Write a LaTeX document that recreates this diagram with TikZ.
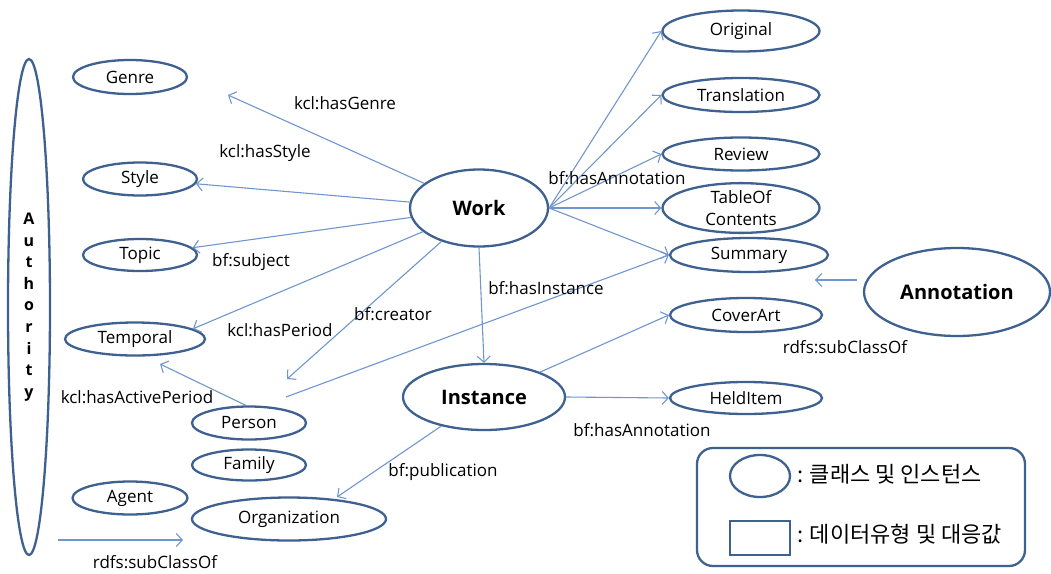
\documentclass[tikz,border=0pt]{standalone}
\usepackage{fontspec}
\setmainfont{Open Sans}
\newfontfamily\kr{Noto Sans CJK KR}
\usetikzlibrary{shapes.geometric,arrows.meta}
\definecolor{nodeblue}{HTML}{3F6190}
\definecolor{arrowblue}{HTML}{7096CF}
\begin{document}
\begin{tikzpicture}[x=1pt,y=-1pt,
  cls/.style={ellipse,draw=nodeblue,line width=2.3pt,inner sep=0pt,font=\fontsize{17}{20}\selectfont},
  big/.style={cls,font=\fontsize{20}{24}\selectfont\bfseries},
  rel/.style={draw=arrowblue,line width=1.1pt,-{Straight Barb[length=6pt,width=13pt]}},
  lbl/.style={font=\fontsize{17}{20}\selectfont,inner sep=0pt},
  krtext/.style={font=\kr\fontsize{22}{24}\selectfont,inner sep=0pt,anchor=west}]
\useasboundingbox (0,0) rectangle (1051,573);
% nodes
\node[cls,minimum width=42pt,minimum height=496pt,align=center,font=\fontsize{16}{21.6}\selectfont\bfseries] (authority) at (29,307) {A\\u\\t\\h\\o\\r\\i\\t\\y};
\node[cls,minimum width=114pt,minimum height=34pt] (genre) at (130,77) {Genre};
\node[cls,minimum width=114pt,minimum height=33pt] (style) at (140,179) {Style};
\node[cls,minimum width=114pt,minimum height=32pt] (topic) at (140,255) {Topic};
\node[cls,minimum width=140pt,minimum height=33pt] (temporal) at (135,339) {Temporal};
\node[cls,minimum width=114pt,minimum height=33pt] (person) at (249,423) {Person};
\node[cls,minimum width=114pt,minimum height=31pt] (family) at (249,465) {Family};
\node[cls,minimum width=115pt,minimum height=33pt] (agent) at (130,498) {Agent};
\node[cls,minimum width=194pt,minimum height=43pt] (organization) at (289,519) {Organization};
\node[big,minimum width=138pt,minimum height=77pt] (work) at (479,208) {Work};
\node[big,minimum width=162pt,minimum height=66pt] (instance) at (484,397) {Instance};
\node[big,minimum width=186pt,minimum height=88pt] (annotation) at (957,292) {Annotation};
\node[cls,minimum width=157pt,minimum height=41pt] (original) at (741,31) {Original};
\node[cls,minimum width=157pt,minimum height=34pt] (translation) at (741,95) {Translation};
\node[cls,minimum width=157pt,minimum height=33pt] (review) at (741,154) {Review};
\node[cls,minimum width=157pt,minimum height=42pt,align=center,font=\fontsize{17}{22}\selectfont] (toc) at (741,208) {TableOf\\Contents};
\node[cls,minimum width=158pt,minimum height=34pt] (summary) at (749,255) {Summary};
\node[cls,minimum width=152pt,minimum height=34pt] (coverart) at (746,315) {CoverArt};
\node[cls,minimum width=152pt,minimum height=32pt] (helditem) at (746,398) {HeldItem};
% free ends
\coordinate (genreTip) at (228,95);
\coordinate (creatorTip) at (287,379);
\coordinate (creatorStart) at (286,397);
\coordinate (activeTip) at (160,364);
\coordinate (orgTip) at (337,497);
\coordinate (annStart) at (857,280);
\coordinate (annTip) at (815,280);
\coordinate (subStart) at (58,540);
\coordinate (subTip) at (183,540);
% connectors
\draw[rel] (work) -- (genreTip);
\draw[rel] (work) -- (style);
\draw[rel] (work) -- (topic);
\draw[rel] (work) -- (temporal.10);
\draw[rel] (work) -- (creatorTip);
\draw[rel] (creatorStart) -- (summary.west);
\draw[rel] (person.100) -- (activeTip);
\draw[rel] (work.east) -- (original.west);
\draw[rel] (work.east) -- (translation.west);
\draw[rel] (work.east) -- (review.west);
\draw[rel] (work.east) -- (toc.west);
\draw[rel] (work.east) -- (summary.west);
\draw[rel] (work.south) -- (instance.north);
\draw[rel] (instance) -- (coverart.west);
\draw[rel] (instance.east) -- (helditem.west);
\draw[rel] (instance) -- (orgTip);
\draw[rel] (annStart) -- (annTip);
\draw[rel] (subStart) -- (subTip);
% labels
\node[lbl] (lGenre) at (345,103) {kcl:hasGenre};
\node[lbl] (lStyle) at (265,153) {kcl:hasStyle};
\node[lbl] (lSubject) at (251,262) {bf:subject};
\node[lbl] (lPeriod) at (280,330) {kcl:hasPeriod};
\node[lbl] (lCreator) at (393,314) {bf:creator};
\node[lbl] (lActive) at (137,397) {kcl:hasActivePeriod};
\node[lbl] (lPub) at (443,472) {bf:publication};
\node[lbl] (lInst) at (546,288) {bf:hasInstance};
\node[lbl] (lAnn1) at (617,178) {bf:hasAnnotation};
\node[lbl] (lAnn2) at (642,430) {bf:hasAnnotation};
\node[lbl] (lSub1) at (155,562) {rdfs:subClassOf};
\node[lbl] (lSub2) at (845,347) {rdfs:subClassOf};
% legend
\node[draw=nodeblue,line width=2.3pt,rounded corners=16pt,minimum width=328pt,minimum height=118pt,inner sep=0pt] (legend) at (861,507) {};
\node[ellipse,draw=nodeblue,line width=2.3pt,minimum width=60pt,minimum height=42pt,inner sep=0pt] (legEll) at (760,476) {};
\node[draw=nodeblue,line width=2.3pt,minimum width=60pt,minimum height=34pt,inner sep=0pt] (legRect) at (760,538) {};
\node[krtext] (legT1) at (797,474) {: 클래스 및 인스턴스};
\node[krtext] (legT2) at (797,534) {: 데이터유형 및 대응값};
\end{tikzpicture}
\end{document}
